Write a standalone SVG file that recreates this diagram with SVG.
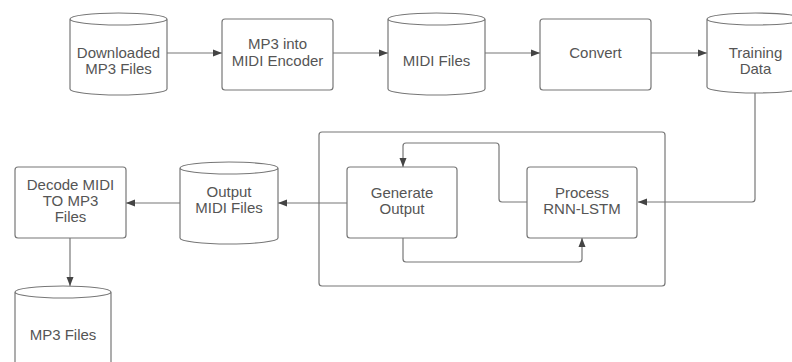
<svg xmlns="http://www.w3.org/2000/svg" width="792" height="362" viewBox="0 0 792 362">
<defs>
<marker id="ah" markerUnits="userSpaceOnUse" markerWidth="9" markerHeight="8" refX="9" refY="4" orient="auto">
<path d="M0,0.5 L9,4 L0,7.5 Z" fill="#444"/>
</marker>
<style>
.s{fill:#fff;stroke:#777;stroke-width:1.2}
.c{fill:none;stroke:#777;stroke-width:1.2}
.t{font-family:"Liberation Sans",Arial,sans-serif;font-size:15px;fill:#555;text-anchor:middle}
</style>
</defs>
<rect width="792" height="362" fill="#fff"/>
<g id="container"><rect class="s" x="319" y="132" width="346" height="154" rx="3"/></g>
<g id="connectors">
<line class="c" x1="167" y1="53" x2="222" y2="53" marker-end="url(#ah)"/>
<line class="c" x1="333" y1="53" x2="388" y2="53" marker-end="url(#ah)"/>
<line class="c" x1="485" y1="53" x2="540" y2="53" marker-end="url(#ah)"/>
<line class="c" x1="651" y1="53" x2="707" y2="53" marker-end="url(#ah)"/>
<path class="c" d="M755,93 V199 Q755,202 752,202 H638" marker-end="url(#ah)"/>
<path class="c" d="M527,202 H502 Q499,202 499,199 V146 Q499,143 496,143 H406 Q403,143 403,146 V167" marker-end="url(#ah)"/>
<path class="c" d="M403,238 V259 Q403,262 406,262 H579 Q582,262 582,259 V238" marker-end="url(#ah)"/>
<line class="c" x1="347" y1="203" x2="278" y2="203" marker-end="url(#ah)"/>
<line class="c" x1="180" y1="203" x2="126" y2="203" marker-end="url(#ah)"/>
<line class="c" x1="70" y1="238" x2="70" y2="286" marker-end="url(#ah)"/>
</g>
<g id="downloaded">
<path class="s" d="M70,19 A48.5,6 0 0 1 167,19 V89 A48.5,6 0 0 1 70,89 Z M70,19 A48.5,6 0 0 0 167,19"/>
<text class="t" x="118.5" y="58">Downloaded</text><text class="t" x="118.5" y="74">MP3 Files</text>
</g>
<g id="encoder">
<rect class="s" x="222" y="19" width="111" height="71" rx="3"/>
<text class="t" x="277.5" y="49">MP3 into</text><text class="t" x="277.5" y="66">MIDI Encoder</text>
</g>
<g id="midifiles">
<path class="s" d="M388,19 A48.5,6 0 0 1 485,19 V89 A48.5,6 0 0 1 388,89 Z M388,19 A48.5,6 0 0 0 485,19"/>
<text class="t" x="436.5" y="66">MIDI Files</text>
</g>
<g id="convert">
<rect class="s" x="540" y="19" width="111" height="71" rx="3"/>
<text class="t" x="595.5" y="58">Convert</text>
</g>
<g id="training">
<path class="s" d="M707,19 A48.5,6 0 0 1 804,19 V87 A48.5,6 0 0 1 707,87 Z M707,19 A48.5,6 0 0 0 804,19"/>
<text class="t" x="755.5" y="58">Training</text><text class="t" x="755.5" y="74">Data</text>
</g>
<g id="generate">
<rect class="s" x="347" y="167" width="110" height="71" rx="3"/>
<text class="t" x="402" y="198">Generate</text><text class="t" x="402" y="214">Output</text>
</g>
<g id="process">
<rect class="s" x="527" y="167" width="110" height="71" rx="3"/>
<text class="t" x="582" y="198">Process</text><text class="t" x="582" y="214">RNN-LSTM</text>
</g>
<g id="outputmidi">
<path class="s" d="M180,168 A49,6 0 0 1 278,168 V238 A49,6 0 0 1 180,238 Z M180,168 A49,6 0 0 0 278,168"/>
<text class="t" x="229" y="197">Output</text><text class="t" x="229" y="213">MIDI Files</text>
</g>
<g id="decode">
<rect class="s" x="15" y="167" width="111" height="71" rx="3"/>
<text class="t" x="70.5" y="190">Decode MIDI</text><text class="t" x="70.5" y="206">TO MP3</text><text class="t" x="70.5" y="222">Files</text>
</g>
<g id="mp3files">
<path class="s" d="M15,292 A48,6 0 0 1 111,292 V362 A48,6 0 0 1 15,362 Z M15,292 A48,6 0 0 0 111,292"/>
<text class="t" x="63" y="340">MP3 Files</text>
</g>
</svg>
